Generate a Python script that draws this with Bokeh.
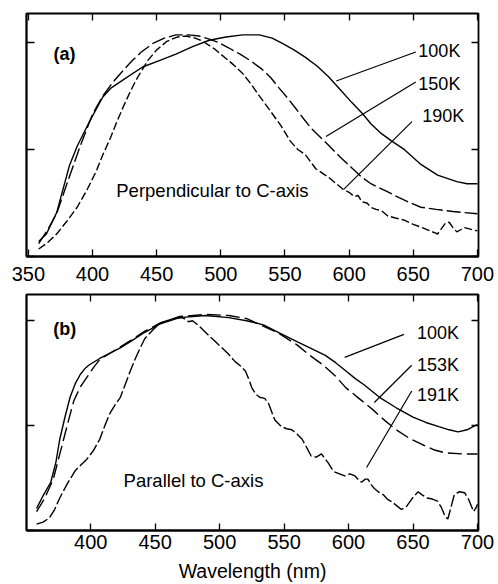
from bokeh.plotting import figure
from bokeh.layouts import column
from bokeh.models import Range1d, LinearAxis, FixedTicker, CustomLabelingPolicy
from bokeh.core.properties import value
from bokeh.embed import file_html
from bokeh.resources import INLINE

FONT = "Liberation Sans"

# ---------------- data: panel (a) Perpendicular to C-axis ----------------
a_100_wl = [358, 364, 372, 377, 382, 388, 398, 408, 414, 425, 439, 452, 465, 478, 491, 504,
            517, 530, 540, 548, 557, 566, 575, 584, 593, 602, 610, 617, 625, 633, 643, 656,
            669, 684, 692, 700]
a_100_v = [0.14, 0.21, 0.41, 0.63, 0.85, 1.03, 1.27, 1.49, 1.57, 1.66, 1.77, 1.83, 1.89, 1.96,
           2.02, 2.05, 2.07, 2.07, 2.04, 1.99, 1.93, 1.86, 1.78, 1.68, 1.56, 1.44, 1.34, 1.24,
           1.15, 1.08, 1.00, 0.86, 0.76, 0.70, 0.68, 0.68]

a_150_wl = [358, 365, 372, 380, 390, 400, 408, 416, 424, 431, 438, 447, 456, 465, 475, 483,
            491, 498, 506, 515, 523, 532, 539, 545, 552, 558, 565, 571, 578, 584, 593, 602,
            610, 617, 629, 639, 648, 656, 668, 681, 690, 700]
a_150_v = [0.12, 0.25, 0.40, 0.68, 1.02, 1.33, 1.50, 1.63, 1.74, 1.83, 1.91, 1.99, 2.04, 2.07,
           2.07, 2.06, 2.03, 2.00, 1.95, 1.89, 1.83, 1.75, 1.67, 1.58, 1.48, 1.39, 1.28, 1.19,
           1.11, 1.04, 0.93, 0.83, 0.74, 0.68, 0.61, 0.55, 0.50, 0.46, 0.44, 0.42, 0.41, 0.40]

a_190_wl = [358, 365, 372, 380, 388, 396, 403, 408, 414, 419, 424, 429, 434, 443, 450, 458,
            466, 473, 480, 486, 495, 504, 510, 517, 523, 530, 538, 547, 554, 560, 566, 574,
            584, 595, 600, 604, 607, 610, 614, 617, 621, 625, 630, 636, 643, 650, 657, 663,
            667, 669, 672, 675, 678, 681, 684, 687, 690, 693, 696, 700]
a_190_v = [0.07, 0.13, 0.21, 0.33, 0.46, 0.63, 0.80, 0.95, 1.11, 1.26, 1.40, 1.53, 1.65, 1.83,
           1.93, 2.01, 2.05, 2.06, 2.04, 2.01, 1.94, 1.85, 1.79, 1.71, 1.62, 1.50, 1.37, 1.22,
           1.08, 1.00, 0.95, 0.82, 0.74, 0.63, 0.60, 0.56, 0.57, 0.51, 0.50, 0.46, 0.44, 0.43,
           0.38, 0.36, 0.34, 0.30, 0.27, 0.24, 0.22, 0.21, 0.26, 0.31, 0.32, 0.27, 0.23, 0.25,
           0.27, 0.26, 0.25, 0.24]

# ---------------- data: panel (b) Parallel to C-axis ----------------
b_100_wl = [358, 363, 369, 373, 376, 380, 384, 388, 392, 396, 399, 407, 415, 423, 432, 442,
            454, 469, 489, 507, 521, 534, 547, 560, 572, 582, 590, 598, 605, 612, 624, 637,
            650, 660, 670, 678, 685, 692, 698, 700]
b_100_v = [0.21, 0.33, 0.46, 0.65, 0.87, 1.08, 1.27, 1.40, 1.49, 1.55, 1.58, 1.64, 1.69, 1.74,
           1.81, 1.89, 1.97, 2.03, 2.05, 2.03, 2.00, 1.96, 1.88, 1.80, 1.73, 1.67, 1.60, 1.52,
           1.45, 1.39, 1.27, 1.17, 1.08, 1.03, 0.99, 0.96, 0.94, 0.96, 1.00, 1.01]

b_153_wl = [358, 364, 371, 375, 379, 383, 387, 392, 397, 402, 407, 415, 423, 432, 442, 454,
            469, 489, 507, 521, 530, 546, 560, 570, 580, 590, 598, 608, 619, 628, 637, 647,
            657, 666, 675, 688, 700]
b_153_v = [0.18, 0.30, 0.49, 0.68, 0.87, 1.06, 1.24, 1.37, 1.46, 1.55, 1.63, 1.69, 1.75, 1.82,
           1.90, 1.98, 2.04, 2.06, 2.05, 2.02, 1.97, 1.88, 1.77, 1.67, 1.58, 1.47, 1.36, 1.26,
           1.15, 1.05, 0.96, 0.88, 0.82, 0.77, 0.74, 0.73, 0.73]

b_191_wl = [358, 363, 368, 372, 376, 382, 388, 392, 397, 402, 407, 411, 415, 419, 423, 427,
            431, 435, 438, 442, 448, 453, 459, 465, 471, 474, 476, 479, 484, 489, 495, 502,
            507, 512, 516, 520, 523, 525, 528, 531, 535, 538, 541, 543, 548, 552, 556, 560,
            564, 568, 571, 575, 579, 582, 584, 587, 589, 593, 597, 601, 605, 608, 610, 613,
            615, 618, 620, 623, 627, 630, 634, 638, 641, 645, 649, 654, 657, 661, 665, 669,
            672, 675, 677, 679, 682, 686, 690, 693, 697, 699, 700]
b_191_v = [0.06, 0.08, 0.12, 0.20, 0.31, 0.45, 0.57, 0.62, 0.68, 0.76, 0.87, 1.00, 1.12, 1.20,
           1.27, 1.40, 1.53, 1.65, 1.73, 1.83, 1.91, 1.97, 2.00, 2.02, 2.03, 2.01, 1.99, 2.00,
           1.95, 1.89, 1.82, 1.74, 1.68, 1.61, 1.57, 1.52, 1.43, 1.36, 1.30, 1.27, 1.26, 1.21,
           1.11, 1.05, 0.99, 0.97, 0.96, 0.92, 0.87, 0.78, 0.71, 0.70, 0.73, 0.68, 0.65, 0.59,
           0.56, 0.54, 0.52, 0.54, 0.52, 0.48, 0.46, 0.49, 0.49, 0.43, 0.40, 0.37, 0.34, 0.30,
           0.27, 0.23, 0.20, 0.23, 0.30, 0.37, 0.34, 0.31, 0.30, 0.28, 0.22, 0.13, 0.11, 0.20,
           0.34, 0.37, 0.36, 0.30, 0.18, 0.22, 0.25]

x_ticks = [350, 400, 450, 500, 550, 600, 650, 700]
y_ticks = [0, 1, 2]

# annotation texts and positions (data units)
a_labels = ["100K", "150K", "190K"]
a_label_x = [654, 654, 657]
a_label_y = [1.92, 1.61, 1.31]
a_lead_x0 = [590, 582, 596]
a_lead_y0 = [1.64, 1.12, 0.63]
a_lead_x1 = [652, 652, 649]
a_lead_y1 = [1.91, 1.63, 1.26]

b_labels = ["100K", "153K", "191K"]
b_label_x = [653, 653, 653]
b_label_y = [1.88, 1.575, 1.295]
b_lead_x0 = [597, 620, 614]
b_lead_y0 = [1.65, 1.22, 0.60]
b_lead_x1 = [643, 649, 649]
b_lead_y1 = [1.87, 1.575, 1.33]

# labeling policy that draws no tick labels (ticks only)
NO_LABELS = "return new indices.constructor(indices.size, 0)"


def tick_only_axis(ticks, tick_len):
    return LinearAxis(ticker=FixedTicker(ticks=ticks), major_tick_in=tick_len,
                      major_tick_out=0, minor_tick_line_color=None,
                      axis_line_color=None, major_tick_line_width=1.3,
                      major_label_standoff=0, major_label_text_font_size="1px",
                      major_label_policy=CustomLabelingPolicy(code=NO_LABELS))


def make_panel(height, xr, yr, borders, series, tag, tag_xy, note, note_xy,
               labels, lx, ly, x0, y0, x1, y1, xlabel=None, label_standoff=7):
    left, right, top, bottom = borders
    p = figure(width=498, height=height, x_range=Range1d(*xr), y_range=Range1d(*yr),
               output_backend="svg", toolbar_location=None,
               min_border_left=left, min_border_right=right,
               min_border_top=top, min_border_bottom=bottom)
    p.background_fill_color = "white"
    p.border_fill_color = "white"
    p.grid.visible = False
    p.outline_line_color = "black"
    p.outline_line_width = 1.8

    xa = p.xaxis[0]
    xa.ticker = FixedTicker(ticks=x_ticks)
    xa.major_tick_in = 7
    xa.major_tick_out = 0
    xa.minor_tick_line_color = None
    xa.axis_line_width = 1.8
    xa.major_tick_line_width = 1.3
    xa.major_label_text_font = FONT
    xa.major_label_text_font_size = "20px"
    xa.major_label_text_color = "black"
    xa.major_label_standoff = label_standoff
    if xlabel:
        xa.axis_label = xlabel
        xa.axis_label_text_font = FONT
        xa.axis_label_text_font_size = "19.5px"
        xa.axis_label_text_font_style = "normal"
        xa.axis_label_text_color = "black"
        xa.axis_label_standoff = 8

    ya = p.yaxis[0]
    ya.ticker = FixedTicker(ticks=y_ticks)
    ya.major_tick_in = 8
    ya.major_tick_out = 0
    ya.minor_tick_line_color = None
    ya.axis_line_width = 1.8
    ya.major_tick_line_width = 1.3
    ya.major_label_standoff = 0
    ya.major_label_text_font_size = "1px"
    ya.major_label_policy = CustomLabelingPolicy(code=NO_LABELS)

    p.add_layout(tick_only_axis(x_ticks, 7), "above")
    p.add_layout(tick_only_axis(y_ticks, 7), "right")

    for wl, v, dash in series:
        p.line(wl, v, line_color="black", line_width=1.4, line_dash=dash)

    p.segment(x0=x0, y0=y0, x1=x1, y1=y1, line_color="black", line_width=1.2)
    p.text(x=lx, y=ly, text=labels, text_font=value(FONT), text_font_size="18px",
           text_align="left", text_baseline="middle", text_color="black")
    p.text(x=[tag_xy[0]], y=[tag_xy[1]], text=[tag], text_font=value(FONT),
           text_font_size="18px", text_font_style="bold", text_align="left",
           text_baseline="middle", text_color="black")
    p.text(x=[note_xy[0]], y=[note_xy[1]], text=[note], text_font=value(FONT),
           text_font_size="18.5px", text_align="left", text_baseline="middle",
           text_color="black")
    return p


p1 = make_panel(290, (348.5, 700.9), (0, 2.27), (23, 20, 13, 34),
                [(a_100_wl, a_100_v, "solid"), (a_150_wl, a_150_v, "14 4"),
                 (a_190_wl, a_190_v, "8 3")],
                "(a)", (369.5, 1.89), "Perpendicular to C-axis", (418.5, 0.62),
                a_labels, a_label_x, a_label_y, a_lead_x0, a_lead_y0, a_lead_x1, a_lead_y1,
                label_standoff=10)

p2 = make_panel(294, (350.2, 700.8), (0, 2.25), (26, 17, 2, 51),
                [(b_100_wl, b_100_v, "solid"), (b_153_wl, b_153_v, "14 5"),
                 (b_191_wl, b_191_v, "12 3")],
                "(b)", (371, 1.92), "Parallel to C-axis", (425.5, 0.48),
                b_labels, b_label_x, b_label_y, b_lead_x0, b_lead_y0, b_lead_x1, b_lead_y1,
                xlabel="Wavelength (nm)", label_standoff=4)

layout = column(p1, p2, spacing=0)
open("out.html", "w").write(file_html(layout, INLINE))
